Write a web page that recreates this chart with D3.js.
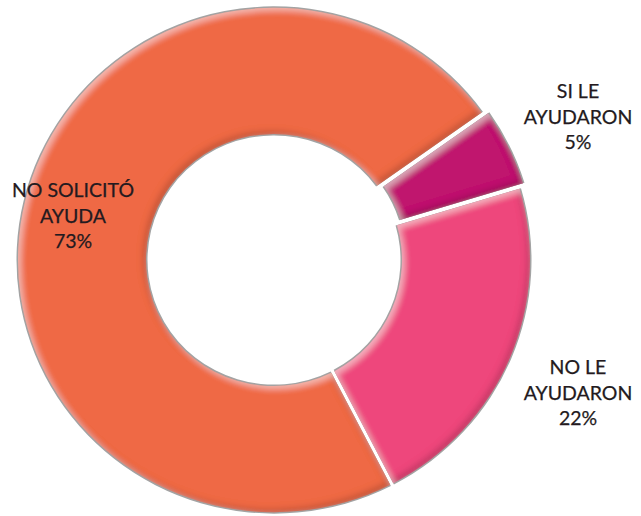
<!DOCTYPE html>
<html>
<head>
<meta charset="utf-8">
<script src="https://cdn.jsdelivr.net/npm/d3@7"></script>
<style>
  body { margin: 0; background: #fff; }
  text { font-family: Lato, "Open Sans", sans-serif; }
</style>
</head>
<body>
<div id="chart"></div>
<script>
// data
const categories = ['SI LE AYUDARON', 'NO LE AYUDARON', 'NO SOLICITÓ AYUDA'];
const values = [5, 22, 73];
const labelLines = [
    ['SI LE', 'AYUDARON', '5%'],
    ['NO LE', 'AYUDARON', '22%'],
    ['NO SOLICITÓ', 'AYUDA', '73%']
];
const colors = ['#c0176e', '#ee467b', '#ef6944'];

const width = 641;
const height = 516;
const cx = 274, cy = 260;
const outerR = 256;
const innerR = 128;
const startDeg = 54.6;

// where each label block is centred (x) and its first baseline (y)
const labelPos = [
    { x: 578, y: 98 },
    { x: 578, y: 374 },
    { x: 73, y: 197 }
];
const explode = [5, 0, 0];

const svg = d3.select('#chart')
    .append('svg')
    .attr('width', width)
    .attr('height', height);

// soft bevel: dark band on lower-right edges, light band on upper-left edges
const defs = svg.append('defs');
const bevel = defs.append('filter')
    .attr('id', 'bevel')
    .attr('x', '-5%').attr('y', '-5%')
    .attr('width', '110%').attr('height', '110%');

function innerEdge(dx, dy, color, opacity, name) {
    bevel.append('feOffset')
        .attr('in', 'SourceAlpha').attr('dx', dx).attr('dy', dy)
        .attr('result', name + 'Off');
    bevel.append('feGaussianBlur')
        .attr('in', name + 'Off').attr('stdDeviation', 3)
        .attr('result', name + 'Blur');
    bevel.append('feComposite')
        .attr('in', 'SourceAlpha').attr('in2', name + 'Blur')
        .attr('operator', 'out').attr('result', name + 'Edge');
    bevel.append('feFlood')
        .attr('flood-color', color).attr('flood-opacity', opacity)
        .attr('result', name + 'Flood');
    bevel.append('feComposite')
        .attr('in', name + 'Flood').attr('in2', name + 'Edge')
        .attr('operator', 'in').attr('result', name);
}
innerEdge(-3, -3, '#000', 0.35, 'dark');
innerEdge(3, 3, '#fff', 0.4, 'light');
const merge = bevel.append('feMerge');
merge.append('feMergeNode').attr('in', 'SourceGraphic');
merge.append('feMergeNode').attr('in', 'dark');
merge.append('feMergeNode').attr('in', 'light');

const pie = d3.pie()
    .sort(null)
    .startAngle(startDeg * Math.PI / 180)
    .endAngle(startDeg * Math.PI / 180 + 2 * Math.PI)
    .padAngle(0.012);

const arc = d3.arc()
    .innerRadius(innerR)
    .outerRadius(outerR);

const arcs = pie(values);

const g = svg.append('g')
    .attr('transform', `translate(${cx}, ${cy}) scale(1, 0.985)`);

function shift(d, i) {
    const a = (d.startAngle + d.endAngle) / 2;
    return `translate(${Math.sin(a) * explode[i]}, ${-Math.cos(a) * explode[i]})`;
}

// grey rim under the ring
g.selectAll('path.rim')
    .data(arcs)
    .join('path')
    .attr('class', 'rim')
    .attr('transform', shift)
    .attr('d', d3.arc().innerRadius(innerR - 1.5).outerRadius(outerR + 1.5))
    .attr('fill', '#a3a3a3');

g.selectAll('path.slice')
    .data(arcs)
    .join('path')
    .attr('class', 'slice')
    .attr('transform', shift)
    .attr('d', arc)
    .attr('fill', (d, i) => colors[i])
    .attr('filter', 'url(#bevel)');

const labels = svg.selectAll('text.label')
    .data(categories)
    .join('text')
    .attr('class', 'label')
    .attr('text-anchor', 'middle')
    .attr('fill', '#231a20')
    .attr('stroke', '#231a20')
    .attr('stroke-width', 0.25)
    .style('font-size', '19.5px');

labels.each(function(d, i) {
    d3.select(this).selectAll('tspan')
        .data(labelLines[i])
        .join('tspan')
        .attr('x', labelPos[i].x)
        .attr('y', (t, j) => labelPos[i].y + j * 25.5)
        .text(t => t);
});
</script>
</body>
</html>
